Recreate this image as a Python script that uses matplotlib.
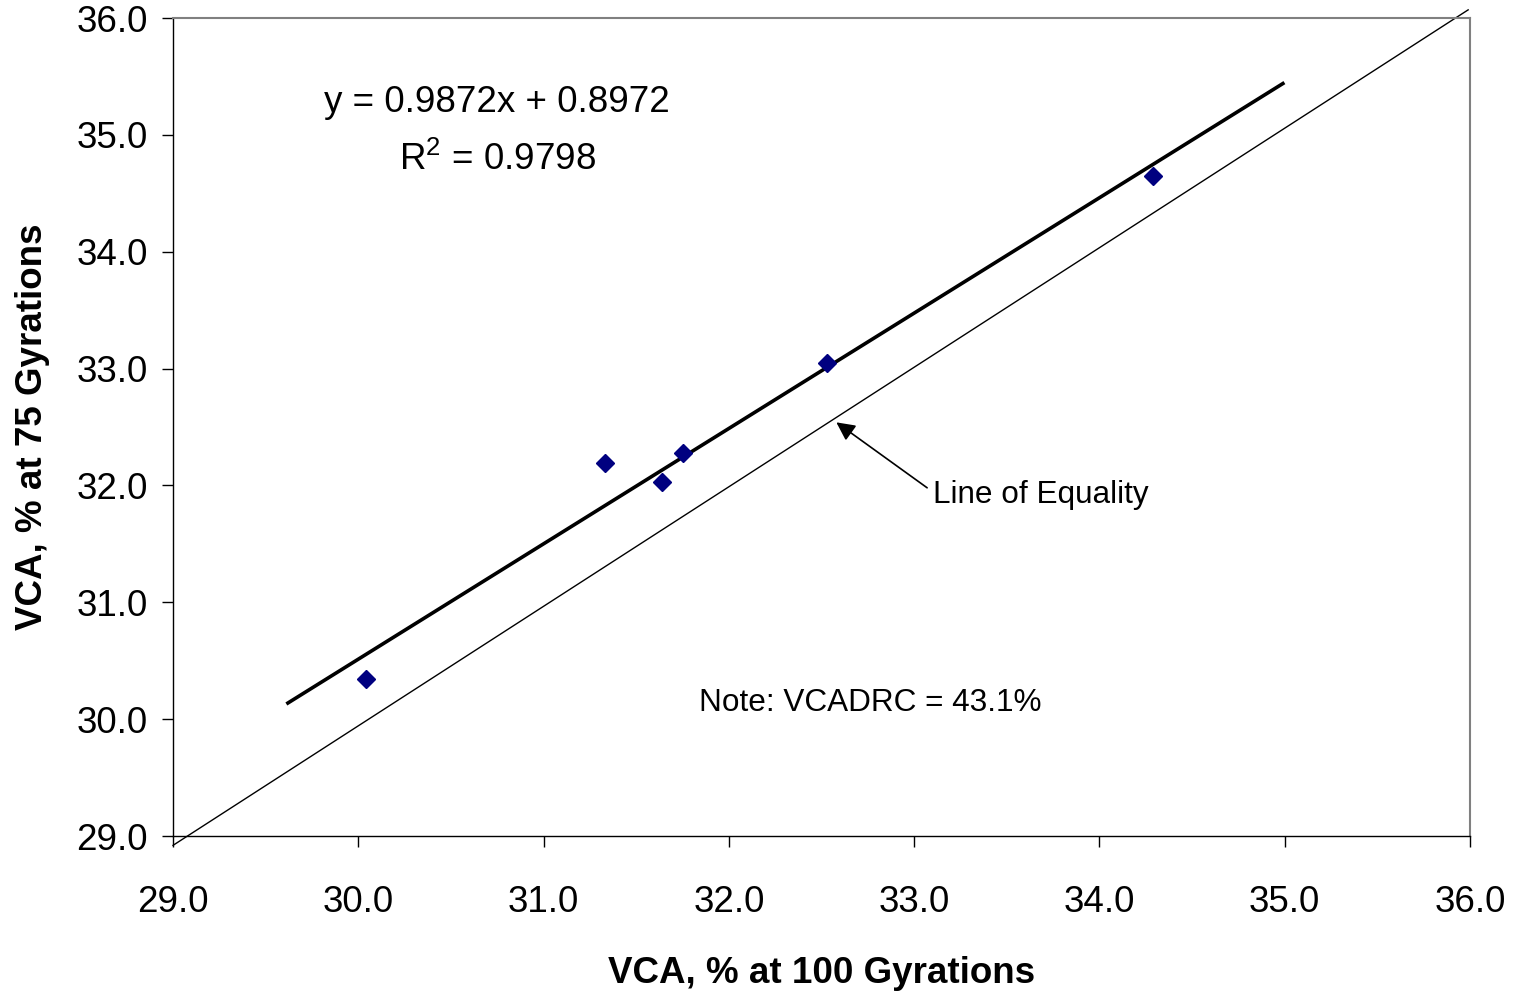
import matplotlib
matplotlib.use('Agg')
import matplotlib.pyplot as plt
from matplotlib.ticker import FormatStrFormatter

plt.rcParams['font.family'] = ['Liberation Sans', 'DejaVu Sans']
plt.rcParams['mathtext.fontset'] = 'custom'
plt.rcParams['mathtext.rm'] = 'Liberation Sans'

# VCA values
vca_100 = [30.04, 31.33, 31.64, 31.75, 32.53, 34.29]
vca_75 = [30.34, 32.19, 32.03, 32.28, 33.05, 34.65]

# regression line y = 0.9872x + 0.8972, drawn over this x span
slope = 0.9872
intercept = 0.8972
trend_x = [29.62, 34.99]

# hand-drawn line of equality
equal_x = [29.0, 35.99]
equal_y = [28.92, 36.07]

ticks = [29, 30, 31, 32, 33, 34, 35, 36]

fig = plt.figure(figsize=(15.15, 9.91), dpi=100)
ax = fig.add_axes([0.1142, 0.1564, 0.8561, 0.8254])

ax.plot(equal_x, equal_y, color='black', lw=1.0, clip_on=False, zorder=2)
trend_y = [slope * v + intercept for v in trend_x]
ax.plot(trend_x, trend_y, color='black', lw=2.6, zorder=3)
ax.plot(vca_100, vca_75, 'D', color='#000080', markersize=9, zorder=4)

ax.set_xlim(29, 36)
ax.set_ylim(29, 36)
ax.set_xticks(ticks)
ax.set_yticks(ticks)
ax.xaxis.set_major_formatter(FormatStrFormatter('%.1f'))
ax.yaxis.set_major_formatter(FormatStrFormatter('%.1f'))
ax.tick_params(direction='out', length=8, width=1, labelsize=26.5)
ax.tick_params(axis='x', pad=27)
ax.tick_params(axis='y', pad=10)

for side in ['top', 'right']:
    ax.spines[side].set_color('#808080')
    ax.spines[side].set_linewidth(1.5)
for side in ['left', 'bottom']:
    ax.spines[side].set_color('black')
    ax.spines[side].set_linewidth(1.0)

ax.set_xlabel('VCA, % at 100 Gyrations', fontsize=26.5, fontweight='bold', labelpad=26)
ax.set_ylabel('VCA, % at 75 Gyrations', fontsize=26.5, fontweight='bold', labelpad=19)

ax.text(30.75, 35.275, 'y = 0.9872x + 0.8972', fontsize=26.5, ha='center', va='center')
ax.text(30.75, 34.79, 'R$^2$ = 0.9798', fontsize=26.5, ha='center', va='center')
ax.text(31.84, 30.14, 'Note: VCADRC = 43.1%', fontsize=22.7, ha='left', va='center')
ax.text(33.10, 31.92, 'Line of Equality', fontsize=22.7, ha='left', va='center')
ax.annotate('', xy=(32.58, 32.54), xytext=(33.07, 31.98),
            arrowprops=dict(arrowstyle='-|>', color='black', lw=1.2,
                            mutation_scale=28, shrinkA=0, shrinkB=0))

fig.savefig('out.png', dpi=100)
